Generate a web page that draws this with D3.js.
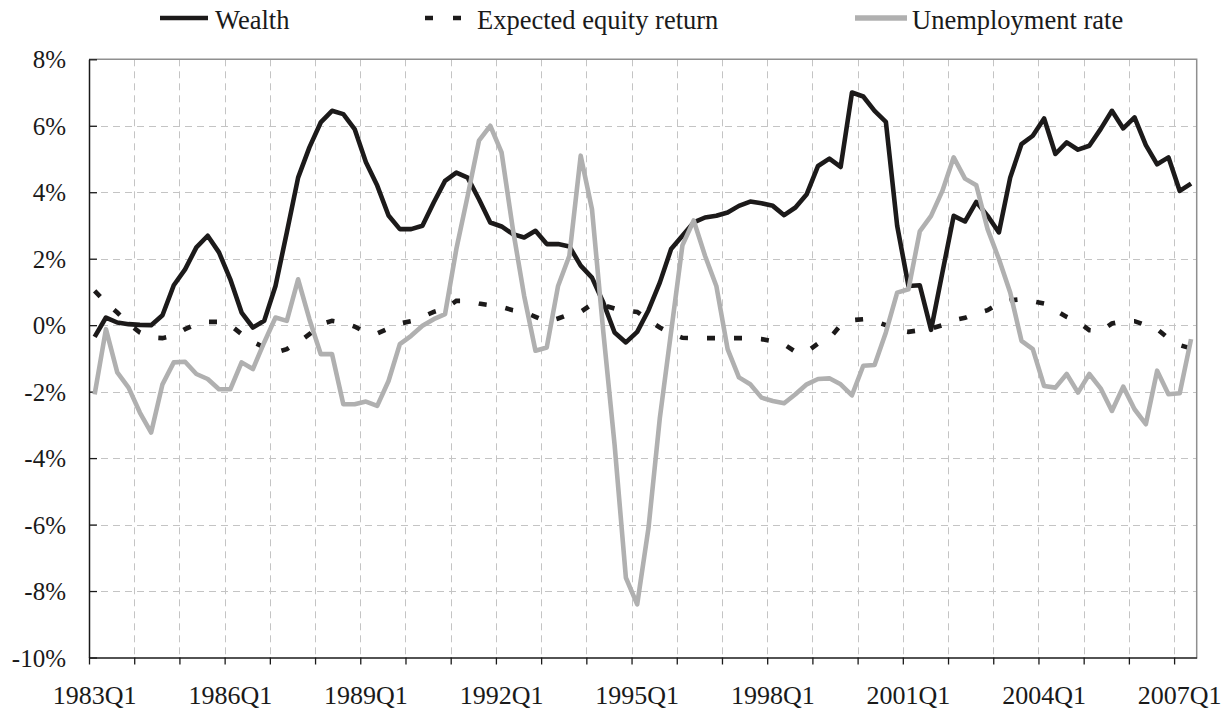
<!DOCTYPE html>
<html>
<head>
<meta charset="utf-8">
<script src="https://cdn.jsdelivr.net/npm/d3@7"></script>
<style>
  body { margin: 0; background: #fff; }
  text { font-family: "Liberation Serif", "Times New Roman", serif; fill: #1a1a1a; }
</style>
</head>
<body>
<div id="chart"></div>
<script>
// quarterly changes, %
var startYear = 1983;
var tickLabels = ["1983Q1", "1986Q1", "1989Q1", "1992Q1", "1995Q1", "1998Q1", "2001Q1", "2004Q1", "2007Q1"];
var yTicks = [-10, -8, -6, -4, -2, 0, 2, 4, 6, 8];

var wealth = [
  -0.35, 0.23, 0.08, 0.03, 0.01, 0.0, 0.3, 1.2, 1.68, 2.34, 2.69, 2.19,
  1.38, 0.38, -0.07, 0.13, 1.18, 2.79, 4.44, 5.35, 6.1, 6.45, 6.35, 5.9,
  4.9, 4.2, 3.3, 2.89, 2.89, 2.99, 3.69, 4.34, 4.59, 4.44, 3.79, 3.09,
  2.97, 2.74, 2.64, 2.84, 2.44, 2.44, 2.37, 1.79, 1.43, 0.68, -0.22, -0.52,
  -0.2, 0.45, 1.28, 2.29, 2.69, 3.09, 3.24, 3.29, 3.39, 3.59, 3.72, 3.67,
  3.59, 3.31, 3.54, 3.94, 4.79, 5.01, 4.76, 7.0, 6.88, 6.45, 6.12, 2.99,
  1.18, 1.2, -0.14, 1.58, 3.29, 3.12, 3.71, 3.29, 2.79, 4.44, 5.45, 5.7,
  6.22, 5.15, 5.5, 5.28, 5.4, 5.9, 6.45, 5.92, 6.25, 5.42, 4.84, 5.05,
  4.04, 4.26
];

var equityReturn = [
  1.03, 0.68, 0.38, 0.05, -0.22, -0.37, -0.39, -0.32, -0.12, 0.03, 0.1, 0.1,
  0.0, -0.27, -0.5, -0.67, -0.82, -0.72, -0.52, -0.27, 0.03, 0.13, 0.08, -0.04,
  -0.22, -0.25, -0.1, 0.05, 0.12, 0.25, 0.4, 0.5, 0.73, 0.73, 0.65, 0.6,
  0.55, 0.45, 0.4, 0.25, 0.1, 0.2, 0.33, 0.4, 0.63, 0.6, 0.5, 0.43,
  0.4, 0.15, -0.07, -0.25, -0.38, -0.39, -0.39, -0.39, -0.39, -0.39, -0.39, -0.42,
  -0.48, -0.58, -0.8, -0.8, -0.55, -0.4, 0.0, 0.15, 0.18, 0.12, 0.0, -0.15,
  -0.2, -0.15, -0.1, 0.0, 0.15, 0.22, 0.35, 0.45, 0.65, 0.75, 0.78, 0.72,
  0.65, 0.45, 0.25, 0.1, -0.15, -0.18, 0.05, 0.12, 0.12, 0.0, -0.12, -0.4,
  -0.6, -0.7
];

var unemployment = [
  -2.08, -0.12, -1.42, -1.88, -2.63, -3.23, -1.78, -1.12, -1.1, -1.47, -1.62, -1.93,
  -1.93, -1.12, -1.32, -0.52, 0.23, 0.13, 1.38, 0.18, -0.87, -0.87, -2.38, -2.38,
  -2.3, -2.43, -1.68, -0.57, -0.32, -0.02, 0.18, 0.33, 2.29, 3.89, 5.55, 6.0,
  5.2, 2.89, 0.88, -0.77, -0.67, 1.18, 2.09, 5.1, 3.49, -0.2, -3.6, -7.6,
  -8.4, -6.1, -2.8, -0.2, 2.4, 3.15, 2.09, 1.18, -0.72, -1.57, -1.78, -2.18,
  -2.28, -2.35, -2.08, -1.78, -1.62, -1.6, -1.78, -2.11, -1.22, -1.2, -0.22, 0.98,
  1.08, 2.82, 3.29, 4.04, 5.05, 4.41, 4.21, 2.89, 1.99, 0.98, -0.47, -0.72,
  -1.83, -1.88, -1.47, -2.03, -1.47, -1.9, -2.58, -1.85, -2.53, -2.98, -1.37, -2.08,
  -2.05, -0.42
];

var quarters = wealth.map(function (d, i) {
  return (startYear + Math.floor(i / 4)) + "Q" + (i % 4 + 1);
});

var width = 1232, height = 711;
var plotLeft = 89, plotRight = 1196.7, plotTop = 59.3, plotBottom = 657.5;

var svg = d3.select("#chart").append("svg")
  .attr("width", width)
  .attr("height", height);

// x: one slot per quarter, labels sit in the middle of a slot
var x = d3.scaleLinear().domain([0, quarters.length]).range([plotLeft, plotRight]);
var y = d3.scaleLinear().domain([-10, 8]).range([plotBottom, plotTop]);

var xc = function (i) { return x(i + 0.5); };

// grid
var grid = svg.append("g").attr("stroke", "#c4c4c4").attr("stroke-width", 1)
  .attr("stroke-dasharray", "7,5").attr("fill", "none");

grid.selectAll(".hg")
  .data(yTicks.filter(function (d) { return d > -10 && d < 8; }))
  .enter().append("line")
  .attr("x1", plotLeft).attr("x2", plotRight)
  .attr("y1", function (d) { return Math.round(y(d)) + 0.5; })
  .attr("y2", function (d) { return Math.round(y(d)) + 0.5; });

var yearStarts = d3.range(4, quarters.length, 4);
grid.selectAll(".vg")
  .data(yearStarts)
  .enter().append("line")
  .attr("x1", function (d) { return Math.round(x(d)) + 0.5; })
  .attr("x2", function (d) { return Math.round(x(d)) + 0.5; })
  .attr("y1", plotTop).attr("y2", plotBottom);

// frame: top and right in grey
svg.append("path")
  .attr("d", "M" + plotLeft + "," + plotTop + "H" + plotRight + "V" + plotBottom)
  .attr("fill", "none").attr("stroke", "#8f8f8f").attr("stroke-width", 1.5);

// y axis
var yAxis = d3.axisLeft(y)
  .tickValues(yTicks)
  .tickSizeInner(-8)
  .tickSizeOuter(0)
  .tickPadding(23)
  .tickFormat(function (d) { return d + "%"; });

var gy = svg.append("g")
  .attr("transform", "translate(" + plotLeft + ",0)")
  .call(yAxis);
gy.select(".domain").attr("stroke", "#1a1a1a").attr("stroke-width", 1.5);
gy.selectAll(".tick line").attr("stroke", "#1a1a1a").attr("stroke-width", 1.3);
gy.selectAll(".tick text")
  .attr("font-size", 25)
  .attr("fill", "#1a1a1a")
  .attr("dy", "0.34em");

// x axis: tick at every year start, label every third year
var xAxis = d3.axisBottom(x)
  .tickValues(d3.range(0, quarters.length + 1, 4))
  .tickSizeInner(7)
  .tickSizeOuter(0)
  .tickFormat("");

var gx = svg.append("g")
  .attr("transform", "translate(0," + plotBottom + ")")
  .call(xAxis);
gx.select(".domain").attr("stroke", "#1a1a1a").attr("stroke-width", 1.5);
gx.selectAll(".tick line").attr("stroke", "#1a1a1a").attr("stroke-width", 1.3);
gx.selectAll(".tick").filter(function (d) { return d === quarters.length; }).remove();

svg.append("g").selectAll("text")
  .data(tickLabels)
  .enter().append("text")
  .attr("x", function (d) { return xc(quarters.indexOf(d)); })
  .attr("y", 704)
  .attr("text-anchor", "middle")
  .attr("font-size", 26)
  .text(function (d) { return d; });

// series
var line = d3.line()
  .x(function (d, i) { return xc(i); })
  .y(function (d) { return y(d); });

svg.append("path")
  .datum(wealth)
  .attr("d", line)
  .attr("fill", "none")
  .attr("stroke", "#1c1a1a")
  .attr("stroke-width", 4.6)
  .attr("stroke-linejoin", "round");

svg.append("path")
  .datum(equityReturn)
  .attr("d", line)
  .attr("fill", "none")
  .attr("stroke", "#1c1a1a")
  .attr("stroke-width", 4.6)
  .attr("stroke-dasharray", "8,19");

svg.append("path")
  .datum(unemployment)
  .attr("d", line)
  .attr("fill", "none")
  .attr("stroke", "#b0b0b0")
  .attr("stroke-width", 4.6)
  .attr("stroke-linejoin", "round");

// legend
var legend = [
  {name: "Wealth", x1: 160, x2: 208, tx: 215, color: "#1c1a1a", dash: null, w: 4.6},
  {name: "Expected equity return", x1: 425, x2: 462, tx: 477, color: "#1c1a1a", dash: "8,20", w: 4.6},
  {name: "Unemployment rate", x1: 855, x2: 907, tx: 912, color: "#b0b0b0", dash: null, w: 5.5}
];

var lg = svg.append("g").selectAll("g")
  .data(legend)
  .enter().append("g");

lg.append("line")
  .attr("x1", function (d) { return d.x1; })
  .attr("x2", function (d) { return d.x2; })
  .attr("y1", 18).attr("y2", 18)
  .attr("stroke", function (d) { return d.color; })
  .attr("stroke-width", function (d) { return d.w; })
  .attr("stroke-dasharray", function (d) { return d.dash; });

lg.append("text")
  .attr("x", function (d) { return d.tx; })
  .attr("y", 29)
  .attr("font-size", 26.5)
  .text(function (d) { return d.name; });
</script>
</body>
</html>
